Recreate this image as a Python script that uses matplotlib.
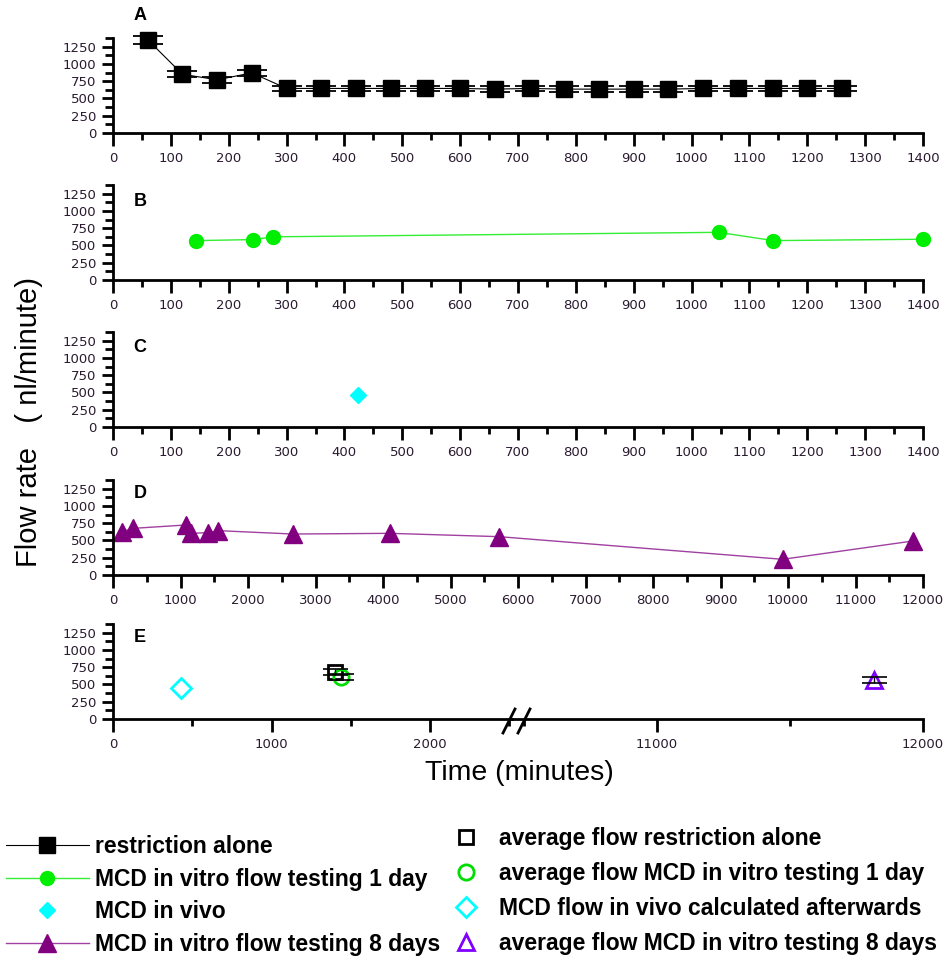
import numpy as np
import matplotlib.pyplot as plt
from matplotlib.ticker import MultipleLocator

# panel A: restriction alone
tA = [60, 120, 180, 240, 300, 360, 420, 480, 540, 600, 660, 720, 780, 840, 900, 960, 1020, 1080, 1140, 1200, 1260]
qA = [1350, 850, 770, 870, 645, 645, 645, 645, 645, 645, 635, 645, 635, 635, 635, 635, 645, 645, 645, 645, 645]
errA = [60, 45, 45, 45, 40, 40, 40, 40, 40, 40, 40, 40, 40, 40, 40, 40, 40, 40, 40, 40, 40]

# panel B: MCD in vitro 1 day
tB = [143, 242, 277, 1047, 1141, 1400]
qB = [570, 585, 625, 690, 570, 590]

# panel C: MCD in vivo
tC = [423]
qC = [470]

# panel D: MCD in vitro 8 days
tD = [130, 300, 1080, 1150, 1410, 1560, 2660, 4100, 5720, 9920, 11850]
qD = [627, 675, 724, 603, 613, 642, 593, 603, 555, 227, 492]

# panel E: averages
avg_t = [1400, 1440, 430, 11816]
avg_q = [683, 610, 450, 560]
avg_err = [45, 40, 0, 45]

labels_left = ["restriction alone", "MCD in vitro flow testing 1 day", "MCD in vivo", "MCD in vitro flow testing 8 days"]
labels_right = ["average flow restriction alone", "average flow MCD in vitro testing 1 day",
                "MCD flow in vivo calculated afterwards", "average flow MCD in vitro testing 8 days"]

W, H = 950, 960
fig = plt.figure(figsize=(9.5, 9.6), dpi=100)
plt.rcParams['font.family'] = ['Liberation Sans', 'DejaVu Sans']

def px(x0, y0, x1, y1):
    # pixel box -> figure fraction
    return [x0 / W, 1 - y1 / H, (x1 - x0) / W, (y1 - y0) / H]

top_off = 95  # px height for 0..1375

def style(ax, major, minor, left=True):
    ax.spines['top'].set_visible(False)
    ax.spines['right'].set_visible(False)
    ax.spines['bottom'].set_linewidth(2)
    ax.spines['left'].set_linewidth(2)
    ax.set_ylim(0, 1375)
    ax.yaxis.set_major_locator(MultipleLocator(250))
    ax.yaxis.set_minor_locator(MultipleLocator(125))
    ax.xaxis.set_major_locator(MultipleLocator(major))
    ax.xaxis.set_minor_locator(MultipleLocator(minor))
    ax.tick_params(axis='x', which='major', length=9, width=2, pad=5)
    ax.tick_params(axis='x', which='minor', length=5, width=2)
    ax.tick_params(axis='y', which='major', length=8, width=2, pad=4)
    ax.tick_params(axis='y', which='minor', length=6, width=2)
    ax.set_yticks([0, 250, 500, 750, 1000, 1250])
    for lab in ax.get_xticklabels() + ax.get_yticklabels():
        lab.set_fontfamily('DejaVu Sans')
        lab.set_fontsize(9.5)
        lab.set_color('#2a1a30')
    if not left:
        ax.spines['left'].set_visible(False)
        ax.tick_params(axis='y', which='both', left=False, labelleft=False)
    ax.patch.set_alpha(0)

bottoms = [133, 280, 427, 575, 719]

# A
axA = fig.add_axes(px(113, bottoms[0] - top_off, 923, bottoms[0]))
axA.set_xlim(0, 1400)
lA = axA.errorbar(tA, qA, yerr=errA, color='black', lw=0.8, marker='s', ms=11,
                  capsize=11, capthick=1.3, elinewidth=1, clip_on=False)
lineA = lA[0]
style(axA, 100, 50)

# B
axB = fig.add_axes(px(113, bottoms[1] - top_off, 923, bottoms[1]))
axB.set_xlim(0, 1400)
lineB, = axB.plot(tB, qB, color='#33ee33', lw=1, marker='o', ms=10, mfc='#00ee00', mec='#00ee00', clip_on=False)
style(axB, 100, 50)

# C
axC = fig.add_axes(px(113, bottoms[2] - top_off, 923, bottoms[2]))
axC.set_xlim(0, 1400)
lineC, = axC.plot(tC, qC, ls='none', marker='D', ms=8, color='#00ffff')
style(axC, 100, 50)

# D
axD = fig.add_axes(px(113, bottoms[3] - top_off, 923, bottoms[3]))
axD.set_xlim(0, 12000)
lineD, = axD.plot(tD, qD, color='#a040a0', lw=1, marker='^', ms=13, mfc='#800080', mec='#800080')
style(axD, 1000, 500)

# E, broken axis
axE1 = fig.add_axes(px(113, bottoms[4] - top_off, 512, bottoms[4]))
axE1.set_xlim(0, 2517)
axE2 = fig.add_axes(px(512, bottoms[4] - top_off, 923, bottoms[4]))
axE2.set_xlim(10455, 12000)

mk = ['s', 'o', 'D', '^']
cols = ['black', '#00dd00', '#00ffff', '#8000ff']
sizes = [10, 11, 10, 11]
right_handles = []
for t, q, e, m, c, s in zip(avg_t, avg_q, avg_err, mk, cols, sizes):
    ax = axE2 if t > 5000 else axE1
    if e > 0:
        ax.errorbar([t], [q], yerr=[e], color='black', lw=1, capsize=9, capthick=1.2, zorder=3, ls='none')
    h, = ax.plot([t], [q], ls='none', marker=m, ms=s, mfc='none', mec=c, mew=2, zorder=2)
    right_handles.append(h)
style(axE1, 1000, 500)
style(axE2, 1000, 500, left=False)

# axis break marks
for x0 in (503, 518):
    fig.add_artist(plt.Line2D([x0 / W, (x0 + 12) / W], [1 - 733 / H, 1 - 709 / H], color='black', lw=2))

# panel letters
for letter, (x, y) in zip("ABCDE", [(140, 15), (140, 201), (140, 347), (140, 494), (140, 638)]):
    fig.text(x / W, 1 - y / H, letter, fontsize=13, fontweight='bold', ha='center', va='center')

fig.text(29 / W, 1 - 422 / H, "Flow rate   ( nl/minute)", rotation=90, fontsize=21, ha='center', va='center')
fig.text(519 / W, 1 - 773 / H, "Time (minutes)", fontsize=20.5, ha='center', va='center')

legfont = {'family': ['Liberation Sans', 'DejaVu Sans'], 'weight': 'bold', 'size': 16.5}
fig.legend([lineA, lineB, lineC, lineD], labels_left, loc='upper left', bbox_to_anchor=(6 / W, 1 - 835 / H),
           frameon=False, prop=legfont, handlelength=3.6, labelspacing=0.42, handletextpad=0.3,
           borderaxespad=0, borderpad=0)
fig.legend(right_handles, labels_right, loc='upper left', bbox_to_anchor=(455 / W, 1 - 827 / H),
           frameon=False, prop=legfont, handlelength=1.0, labelspacing=0.52, handletextpad=0.9,
           borderaxespad=0, borderpad=0)

fig.savefig("out.png", dpi=100)
